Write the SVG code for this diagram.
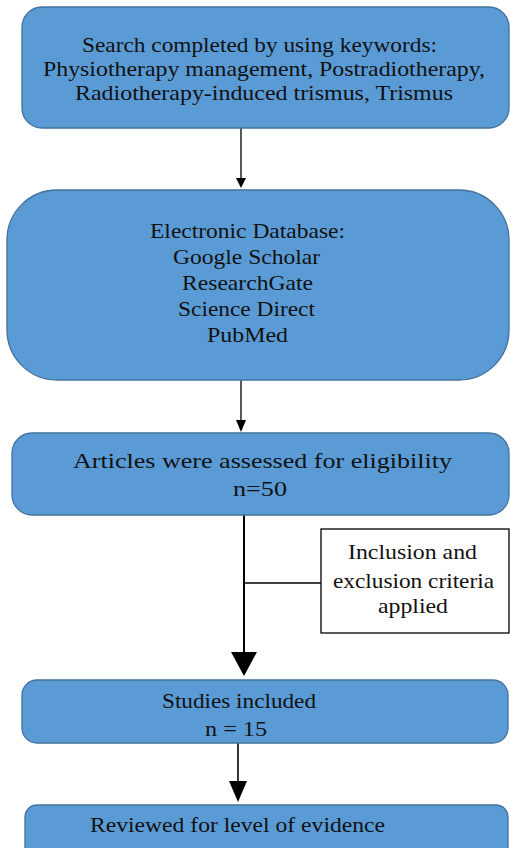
<svg xmlns="http://www.w3.org/2000/svg" width="511" height="848" viewBox="0 0 511 848">
<style>
.box{fill:#5b9bd5;stroke:#41719c;stroke-width:1.3}
.side{fill:#ffffff;stroke:#000000;stroke-width:1.3}
text{font-family:"Liberation Serif","Times New Roman",serif;font-size:21px;fill:#111111;text-anchor:middle}
.ln{stroke:#000000;stroke-width:1.3;fill:none}
</style>
<rect width="511" height="848" fill="#ffffff"/>
<g id="connectors">
<line class="ln" x1="241" y1="128" x2="241" y2="180"/>
<polygon points="236,178 246,178 241,188" fill="#000"/>
<line class="ln" x1="241" y1="380" x2="241" y2="422"/>
<polygon points="236,420 246,420 241,432" fill="#000"/>
<line class="ln" x1="244" y1="515" x2="244" y2="655" style="stroke-width:2"/>
<polygon points="231,652 257,652 244,676" fill="#000"/>
<line class="ln" x1="244" y1="583" x2="321" y2="583"/>
<line class="ln" x1="238" y1="743" x2="238" y2="784" style="stroke-width:1.6"/>
<polygon points="229,781 247,781 238,802" fill="#000"/>
</g>
<g id="node-search">
<rect class="box" x="22" y="7" width="487" height="121" rx="20"/>
<text x="259.5" y="52" textLength="355" lengthAdjust="spacingAndGlyphs">Search completed  by using keywords:</text>
<text x="264" y="76" textLength="442" lengthAdjust="spacingAndGlyphs">Physiotherapy management,  Postradiotherapy,</text>
<text x="264" y="100" textLength="378" lengthAdjust="spacingAndGlyphs">Radiotherapy-induced  trismus, Trismus</text>
</g>
<g id="node-database">
<rect class="box" x="7" y="190" width="502" height="190" rx="50"/>
<text x="247.5" y="238" textLength="195" lengthAdjust="spacingAndGlyphs">Electronic Database:</text>
<text x="246.5" y="264" textLength="147" lengthAdjust="spacingAndGlyphs">Google Scholar</text>
<text x="247.5" y="290" textLength="131" lengthAdjust="spacingAndGlyphs">ResearchGate</text>
<text x="246.5" y="316" textLength="137" lengthAdjust="spacingAndGlyphs">Science Direct</text>
<text x="247.5" y="342" textLength="81" lengthAdjust="spacingAndGlyphs">PubMed</text>
</g>
<g id="node-articles">
<rect class="box" x="12" y="433" width="497" height="82" rx="20"/>
<text x="262.5" y="468" textLength="379" lengthAdjust="spacingAndGlyphs">Articles  were  assessed for eligibility</text>
<text x="260" y="496" textLength="54" lengthAdjust="spacingAndGlyphs">n=50</text>
</g>
<g id="node-criteria">
<rect class="side" x="321" y="529" width="188" height="104"/>
<text x="412.5" y="559" textLength="129" lengthAdjust="spacingAndGlyphs">Inclusion and</text>
<text x="413.5" y="588" textLength="161" lengthAdjust="spacingAndGlyphs">exclusion criteria</text>
<text x="413" y="613" textLength="70" lengthAdjust="spacingAndGlyphs">applied</text>
</g>
<g id="node-studies">
<rect class="box" x="22" y="680" width="486" height="63" rx="15"/>
<text x="239" y="708" textLength="154" lengthAdjust="spacingAndGlyphs">Studies included</text>
<text x="236" y="736" textLength="62" lengthAdjust="spacingAndGlyphs">n = 15</text>
</g>
<g id="node-reviewed">
<rect class="box" x="25" y="805" width="483" height="60" rx="12"/>
<text x="237.5" y="832" textLength="295" lengthAdjust="spacingAndGlyphs">Reviewed for level  of evidence</text>
</g>
</svg>
